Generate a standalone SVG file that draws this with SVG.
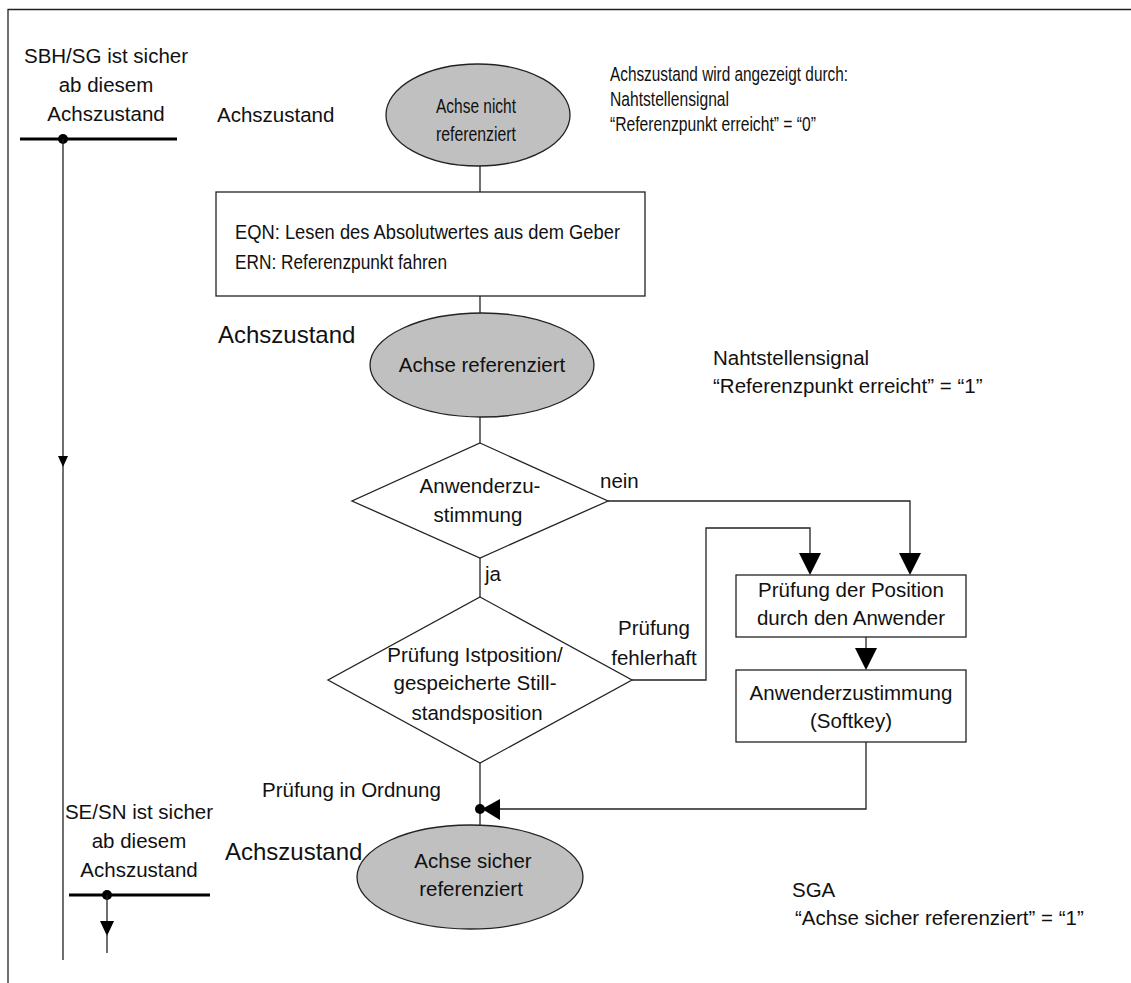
<svg xmlns="http://www.w3.org/2000/svg" width="1131" height="983" viewBox="0 0 1131 983">
  <style>
    text { font-family: "Liberation Sans", Arial, sans-serif; font-size: 20.5px; fill: #111; }
    .mid { text-anchor: middle; }
    .big { font-size: 24px; }
    .ln { fill: none; stroke: #222; stroke-width: 1.3; }
    .bar { fill: none; stroke: #000; stroke-width: 3; }
    .state { fill: #c0c0c0; stroke: #222; stroke-width: 1.3; }
    .box { fill: #fff; stroke: #222; stroke-width: 1.3; }
    .head { fill: #000; }
  </style>

  <!-- frame -->
  <path class="ln" d="M8,983 V9.5 H1131" stroke="#444" stroke-width="1.5"/>

  <!-- left scale: SBH/SG -->
  <g id="scale-sbh">
    <text class="mid" x="106" y="63">SBH/SG ist sicher</text>
    <text class="mid" x="106" y="92">ab diesem</text>
    <text class="mid" x="106" y="121">Achszustand</text>
    <line class="bar" x1="20" y1="139" x2="177" y2="139"/>
    <circle cx="63" cy="139" r="5" fill="#000"/>
  </g>

  <!-- left scale: SE/SN -->
  <g id="scale-sesn">
    <text class="mid" x="139" y="819">SE/SN ist sicher</text>
    <text class="mid" x="139" y="848">ab diesem</text>
    <text class="mid" x="139" y="877">Achszustand</text>
    <line class="bar" x1="69" y1="895" x2="210" y2="895"/>
    <circle cx="107" cy="895" r="5" fill="#000"/>
  </g>

  <!-- state: not referenced -->
  <g id="state-nicht">
    <text x="217" y="122">Achszustand</text>
    <ellipse class="state" cx="478" cy="115" rx="92" ry="51"/>
    <text class="mid" x="476" y="113" textLength="80" lengthAdjust="spacingAndGlyphs">Achse nicht</text>
    <text class="mid" x="476" y="141" textLength="80" lengthAdjust="spacingAndGlyphs">referenziert</text>
  </g>

  <g id="info-0">
    <text x="610" y="81" textLength="238" lengthAdjust="spacingAndGlyphs">Achszustand wird angezeigt durch:</text>
    <text x="610" y="106" textLength="119" lengthAdjust="spacingAndGlyphs">Nahtstellensignal</text>
    <text x="610" y="131" textLength="206" lengthAdjust="spacingAndGlyphs">“Referenzpunkt erreicht” = “0”</text>
  </g>

  <!-- referencing step -->
  <g id="box-referencing">
    <rect class="box" x="216" y="192" width="429" height="104"/>
    <text x="235" y="239" textLength="385" lengthAdjust="spacingAndGlyphs">EQN: Lesen des Absolutwertes aus dem Geber</text>
    <text x="235" y="269" textLength="212" lengthAdjust="spacingAndGlyphs">ERN: Referenzpunkt fahren</text>
  </g>

  <!-- state: referenced -->
  <g id="state-ref">
    <text class="big" x="218" y="343">Achszustand</text>
    <ellipse class="state" cx="482" cy="365" rx="112" ry="52"/>
    <text class="mid" x="482" y="372">Achse referenziert</text>
  </g>

  <g id="info-1">
    <text x="713" y="365">Nahtstellensignal</text>
    <text x="713" y="393">“Referenzpunkt erreicht” = “1”</text>
  </g>

  <!-- decision: user acknowledgement -->
  <g id="dec-zustimmung">
    <polygon class="box" points="480,443 608,501 480,558 352,501"/>
    <text class="mid" x="480" y="493">Anwenderzu-</text>
    <text class="mid" x="478" y="522">stimmung</text>
  </g>

  <!-- decision: position check -->
  <g id="dec-pruefung">
    <polygon class="box" points="480,597 632,680 480,763 328,680"/>
    <text class="mid" x="475" y="662">Prüfung Istposition/</text>
    <text class="mid" x="475" y="690">gespeicherte Still-</text>
    <text class="mid" x="477" y="720">standsposition</text>
  </g>

  <g id="box-check">
    <rect class="box" x="736" y="575" width="230" height="62"/>
    <text class="mid" x="851" y="597">Prüfung der Position</text>
    <text class="mid" x="851" y="625">durch den Anwender</text>
  </g>

  <g id="box-softkey">
    <rect class="box" x="736" y="670" width="230" height="72"/>
    <text class="mid" x="851" y="700">Anwenderzustimmung</text>
    <text class="mid" x="851" y="728">(Softkey)</text>
  </g>

  <!-- state: safely referenced -->
  <g id="state-sicher">
    <text class="big" x="225" y="860">Achszustand</text>
    <ellipse class="state" cx="470" cy="877" rx="113" ry="52"/>
    <text class="mid" x="473" y="868">Achse sicher</text>
    <text class="mid" x="471" y="896">referenziert</text>
  </g>

  <g id="info-sga">
    <text x="792" y="897">SGA</text>
    <text x="795" y="925">“Achse sicher referenziert” = “1”</text>
  </g>

  <!-- connectors -->
  <g id="connectors">
    <line class="ln" x1="63" y1="139" x2="63" y2="960"/>
    <polygon class="head" points="58,456 68,456 63,467"/>
    <line class="ln" x1="107" y1="895" x2="107" y2="922" stroke-width="3"/>
    <line class="ln" x1="107" y1="935" x2="107" y2="953"/>
    <polygon class="head" points="100,921 114,921 107,936"/>

    <line class="ln" x1="480" y1="166" x2="480" y2="192"/>
    <line class="ln" x1="480" y1="296" x2="480" y2="313"/>
    <line class="ln" x1="480" y1="417" x2="480" y2="443"/>
    <line class="ln" x1="480" y1="558" x2="480" y2="597"/>
    <text x="485" y="581">ja</text>
    <line class="ln" x1="480" y1="763" x2="480" y2="825"/>

    <polyline class="ln" points="608,501 910,501 910,555"/>
    <polygon class="head" points="899,553 921,553 910,575"/>
    <text x="600" y="488">nein</text>

    <polyline class="ln" points="632,680 706,680 706,528 810,528 810,555"/>
    <polygon class="head" points="799,553 821,553 810,575"/>
    <text class="mid" x="654" y="635">Prüfung</text>
    <text class="mid" x="654" y="665">fehlerhaft</text>

    <line class="ln" x1="866" y1="637" x2="866" y2="650"/>
    <polygon class="head" points="855,648 877,648 866,670"/>

    <polyline class="ln" points="866,742 866,809 498,809"/>
    <polygon class="head" points="500,799 500,820 482,809"/>
    <circle cx="480" cy="809" r="5" fill="#000"/>
    <text x="262" y="797">Prüfung in Ordnung</text>
  </g>
</svg>
